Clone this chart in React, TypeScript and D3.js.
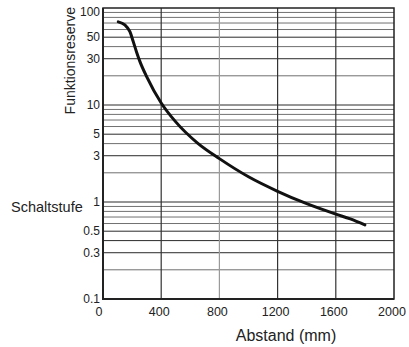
import * as d3 from 'd3';
import { useEffect, useRef } from 'react';

const WIDTH = 409;
const HEIGHT = 347;

// curve: distance (mm) -> Funktionsreserve
const distances = [105, 150, 185, 208, 231, 254, 300, 400, 500, 650, 800, 1000, 1200, 1400, 1600, 1700, 1800];
const reserves = [72, 67, 57, 45, 35, 28, 19.6, 10.5, 6.7, 4.05, 2.8, 1.82, 1.29, 0.96, 0.75, 0.67, 0.58];

const xTicks = [0, 400, 800, 1200, 1600, 2000];
const yTicks = [0.1, 0.3, 0.5, 1, 3, 5, 10, 30, 50, 100];
const yGrid = [0.2, 0.3, 0.4, 0.5, 0.6, 0.7, 0.8, 0.9, 1, 2, 3, 4, 5, 6, 7, 8, 9, 10, 20, 30, 40, 50, 60, 70, 80, 90];
const yGridDark = [0.3, 0.4, 0.5, 1, 3, 5, 10, 30, 50];
const xGridGray = [800];

const FONT = '"Liberation Sans", Arial, Helvetica, sans-serif';

export default function App() {
    const svgRef = useRef<SVGSVGElement | null>(null);

    useEffect(() => {
        if (!svgRef.current) {
            return;
        }
        const svg = d3.select(svgRef.current);
        svg.selectAll('*').remove();

        const margin = { top: 8, right: 15, bottom: 48, left: 103 };
        const innerW = WIDTH - margin.left - margin.right;
        const innerH = HEIGHT - margin.top - margin.bottom;

        const x = d3.scaleLinear().domain([0, 2000]).range([0, innerW]);
        const y = d3.scaleLog().domain([0.1, 100]).range([innerH, 0]);

        const g = svg
            .append('g')
            .attr('transform', `translate(${margin.left},${margin.top})`);

        // horizontal grid
        g.append('g')
            .selectAll('line')
            .data(yGrid)
            .join('line')
            .attr('x1', 0)
            .attr('x2', innerW)
            .attr('y1', (d) => y(d))
            .attr('y2', (d) => y(d))
            .attr('stroke', (d) => (yGridDark.includes(d) ? '#2a2a2a' : '#707070'))
            .attr('stroke-width', 1);

        // vertical grid
        g.append('g')
            .selectAll('line')
            .data(xTicks.slice(1, -1))
            .join('line')
            .attr('x1', (d) => x(d))
            .attr('x2', (d) => x(d))
            .attr('y1', 0)
            .attr('y2', innerH)
            .attr('stroke', (d) => (xGridGray.includes(d) ? '#9a9a9a' : '#333'))
            .attr('stroke-width', 1.2);

        // frame
        g.append('rect')
            .attr('width', innerW)
            .attr('height', innerH)
            .attr('fill', 'none')
            .attr('stroke', '#222')
            .attr('stroke-width', 1.5);
        g.append('path')
            .attr('d', `M0,0V${innerH}H${innerW}`)
            .attr('fill', 'none')
            .attr('stroke', '#222')
            .attr('stroke-width', 2);

        // curve
        const pts = distances.map((d, i) => [d, reserves[i]] as [number, number]);
        const line = d3
            .line<[number, number]>()
            .x((d) => x(d[0]))
            .y((d) => y(d[1]))
            .curve(d3.curveMonotoneX);
        g.append('path')
            .attr('d', line(pts) ?? '')
            .attr('fill', 'none')
            .attr('stroke', '#111')
            .attr('stroke-width', 3)
            .attr('stroke-linecap', 'round');

        // y tick labels
        g.append('g')
            .selectAll('text')
            .data(yTicks)
            .join('text')
            .attr('x', -3)
            .attr('y', (d) => y(d) + (d === 100 ? 4 : 0))
            .attr('dy', '0.35em')
            .attr('text-anchor', 'end')
            .attr('font-family', FONT)
            .attr('font-size', 12)
            .attr('fill', '#222')
            .text((d) => String(d));

        // x tick labels
        g.append('g')
            .selectAll('text')
            .data(xTicks)
            .join('text')
            .attr('x', (d) => x(d) - (d === 0 ? 4 : 2))
            .attr('y', innerH + 17)
            .attr('text-anchor', 'middle')
            .attr('font-family', FONT)
            .attr('font-size', 12.5)
            .attr('fill', '#222')
            .text((d) => String(d));

        // axis titles
        svg.append('text')
            .attr('transform', `translate(75,7) rotate(-90)`)
            .attr('text-anchor', 'end')
            .attr('font-family', FONT)
            .attr('font-size', 14)
            .attr('fill', '#222')
            .text('Funktionsreserve');

        svg.append('text')
            .attr('x', 11)
            .attr('y', 212)
            .attr('font-family', FONT)
            .attr('font-size', 14.5)
            .attr('fill', '#222')
            .text('Schaltstufe');

        svg.append('text')
            .attr('x', 286)
            .attr('y', 341)
            .attr('text-anchor', 'middle')
            .attr('font-family', FONT)
            .attr('font-size', 16)
            .attr('fill', '#222')
            .text('Abstand (mm)');
    }, []);

    return (
        <svg
            ref={svgRef}
            width={WIDTH}
            height={HEIGHT}
            style={{ position: 'absolute', left: 0, top: 0, background: '#fff' }}
        />
    );
}
